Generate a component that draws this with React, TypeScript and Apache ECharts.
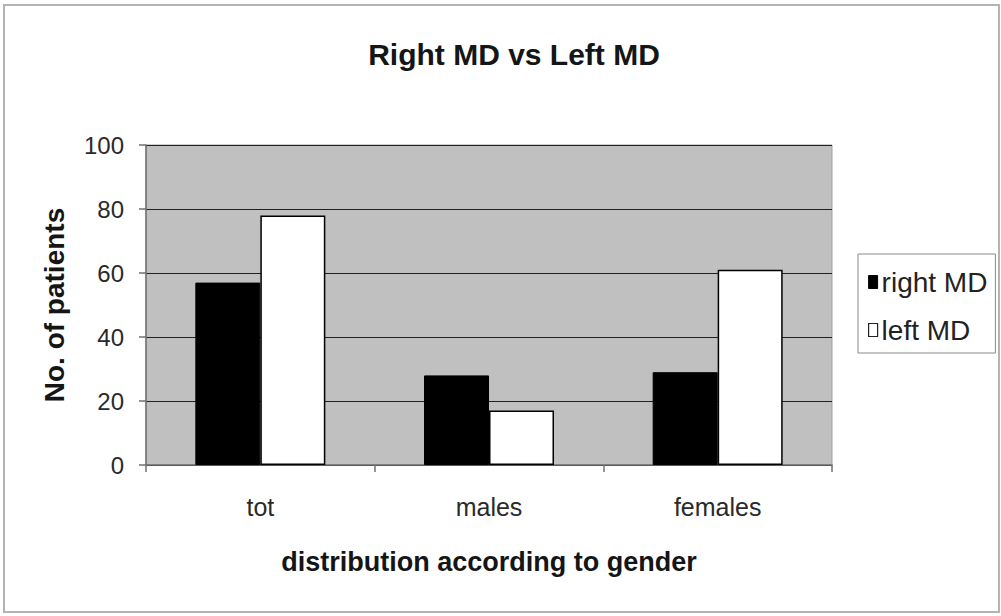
import React, { useEffect, useRef } from "react";
import * as echarts from "echarts";

const categories = ["tot", "males", "females"];
const rightMD = [57, 28, 29];
const leftMD = [78, 17, 61];
const yTicks = { min: 0, max: 100, interval: 20 };

export default function App() {
  const ref = useRef<HTMLDivElement>(null);
  useEffect(() => {
    if (!ref.current) return;
    const chart = echarts.init(ref.current, undefined, { renderer: "svg" });
    const font = "'Liberation Sans', Arial, sans-serif";
    chart.setOption({
      animation: false,
      backgroundColor: "#ffffff",
      textStyle: { fontFamily: font },
      title: {
        text: "Right MD vs Left MD",
        left: 509,
        textAlign: "center",
        top: 34,
        textStyle: { fontFamily: font, fontWeight: "bold", fontSize: 30, color: "#151515" },
      },
      graphic: [
        {
          type: "rect",
          shape: { x: 4, y: 5, width: 995, height: 607 },
          style: { fill: "none", stroke: "#b4b4b4", lineWidth: 2 },
          silent: true,
          z: -1,
        },
      ],
      legend: {
        orient: "vertical",
        left: 858,
        top: 254,
        backgroundColor: "#ffffff",
        borderColor: "#8a8a8a",
        borderWidth: 1,
        padding: [13, 8, 8, 10],
        itemWidth: 9,
        itemHeight: 13,
        itemGap: 18,
        icon: "rect",
        textStyle: {
          fontFamily: font,
          fontSize: 28,
          lineHeight: 30,
          color: "#222",
          padding: [0, 0, 0, -1],
        },
        data: [
          { name: "right MD", itemStyle: { color: "#000", borderColor: "#000", borderWidth: 1 } },
          { name: "left MD", itemStyle: { color: "#fff", borderColor: "#222", borderWidth: 1.2 } },
        ],
      },
      grid: {
        left: 146,
        right: 169,
        top: 145,
        bottom: 151,
        show: true,
        backgroundColor: "#c0c0c0",
        borderColor: "#a0a0a0",
        borderWidth: 1,
        containLabel: false,
      },
      xAxis: {
        type: "category",
        data: categories,
        name: "distribution according to gender",
        nameLocation: "middle",
        nameGap: 83,
        nameTextStyle: { fontFamily: font, fontWeight: "bold", fontSize: 27, color: "#151515" },
        axisLine: { show: true, lineStyle: { color: "#707070", width: 1.5 } },
        axisTick: { show: true, length: 7, lineStyle: { color: "#707070", width: 1.5 } },
        axisLabel: { fontFamily: font, fontSize: 25, color: "#2a2a2a", margin: 29 },
        splitLine: { show: false },
      },
      yAxis: {
        type: "value",
        min: yTicks.min,
        max: yTicks.max,
        interval: yTicks.interval,
        name: "No. of patients",
        nameLocation: "middle",
        nameGap: 78,
        nameTextStyle: { fontFamily: font, fontWeight: "bold", fontSize: 28, color: "#151515" },
        axisLine: { show: true, lineStyle: { color: "#707070", width: 1.5 } },
        axisTick: { show: true, length: 7, lineStyle: { color: "#707070", width: 1.5 } },
        axisLabel: { fontFamily: font, fontSize: 24, color: "#2a2a2a", margin: 22 },
        splitLine: { show: true, lineStyle: { color: "#202020", width: 1.2 } },
      },
      series: [
        {
          name: "right MD",
          type: "bar",
          data: rightMD,
          barWidth: 65,
          barGap: "0%",
          itemStyle: { color: "#000", borderColor: "#000", borderWidth: 1 },
        },
        {
          name: "left MD",
          type: "bar",
          data: leftMD,
          barWidth: 65,
          barGap: "0%",
          itemStyle: { color: "#fff", borderColor: "#000", borderWidth: 1.5 },
        },
      ],
    });
    return () => chart.dispose();
  }, []);
  return (
    <div
      ref={ref}
      style={{ width: 1001, height: 616, position: "absolute", left: 0, top: 0 }}
    />
  );
}
